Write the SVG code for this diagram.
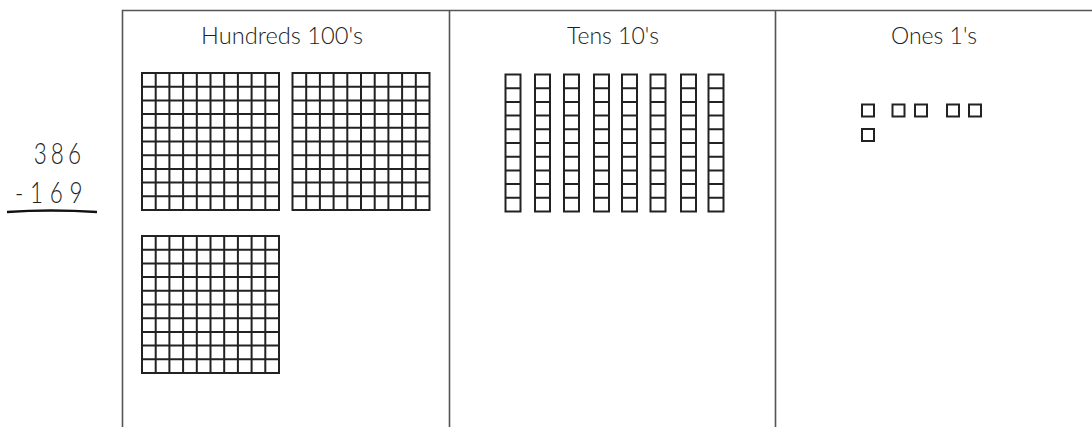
<svg xmlns="http://www.w3.org/2000/svg" xmlns:xlink="http://www.w3.org/1999/xlink" width="1092" height="427" viewBox="0 0 1092 427">
<style>
.frame{stroke:#555;stroke-width:1.6;fill:none}
.grid{stroke:#222;stroke-width:2;fill:none}
.hdr{font-family:Lato,"Liberation Sans",sans-serif;font-weight:300;font-size:23px;fill:#222;text-anchor:middle}
.num{font-family:Lato,"Liberation Sans",sans-serif;font-weight:300;font-size:30px;fill:#222}
.one{stroke:#222;stroke-width:2;fill:#fff}
</style>
<defs>
<g id="hundred">
<rect x="0" y="0" width="137" height="137" class="grid"/>
<path class="grid" d="M13.7 0V137M27.4 0V137M41.1 0V137M54.8 0V137M68.5 0V137M82.2 0V137M95.9 0V137M109.6 0V137M123.3 0V137M0 13.7H137M0 27.4H137M0 41.1H137M0 54.8H137M0 68.5H137M0 82.2H137M0 95.9H137M0 109.6H137M0 123.3H137"/>
</g>
<g id="ten">
<rect x="0" y="0" width="15" height="137" class="grid"/>
<path class="grid" d="M0 13.7H15M0 27.4H15M0 41.1H15M0 54.8H15M0 68.5H15M0 82.2H15M0 95.9H15M0 109.6H15M0 123.3H15"/>
</g>
<rect id="unit" x="0" y="0" width="12" height="12" class="one"/>
</defs>
<rect width="1092" height="427" fill="#fff"/>
<g id="frame">
<path class="frame" d="M122.5 427V10.5H1092M449.5 10.5V427M775.5 10.5V427"/>
</g>
<g id="problem">
<g transform="scale(0.75,1)">
<text class="num" x="45" y="164" textLength="63" lengthAdjust="spacing">386</text>
<text class="num" x="20" y="203" textLength="90" lengthAdjust="spacing">-169</text>
</g>
<path d="M7 212Q50 209 97 212" stroke="#111" stroke-width="2.4" fill="none"/>
</g>
<g id="hundreds">
<text class="hdr" x="282" y="44" textLength="162" lengthAdjust="spacingAndGlyphs">Hundreds 100's</text>
<use xlink:href="#hundred" x="142" y="73"/>
<use xlink:href="#hundred" x="292.5" y="73"/>
<use xlink:href="#hundred" x="142" y="236"/>
</g>
<g id="tens">
<text class="hdr" x="613" y="44">Tens 10's</text>
<use xlink:href="#ten" x="505.5" y="74.5"/>
<use xlink:href="#ten" x="535" y="74.5"/>
<use xlink:href="#ten" x="564" y="74.5"/>
<use xlink:href="#ten" x="594" y="74.5"/>
<use xlink:href="#ten" x="622" y="74.5"/>
<use xlink:href="#ten" x="650.5" y="74.5"/>
<use xlink:href="#ten" x="681" y="74.5"/>
<use xlink:href="#ten" x="708.5" y="74.5"/>
</g>
<g id="ones">
<text class="hdr" x="934" y="44">Ones 1's</text>
<use xlink:href="#unit" x="862" y="104.5"/>
<use xlink:href="#unit" x="892.5" y="104.5"/>
<use xlink:href="#unit" x="915" y="104.5"/>
<use xlink:href="#unit" x="947" y="104.5"/>
<use xlink:href="#unit" x="969" y="104.5"/>
<use xlink:href="#unit" x="862" y="129"/>
</g>
</svg>
